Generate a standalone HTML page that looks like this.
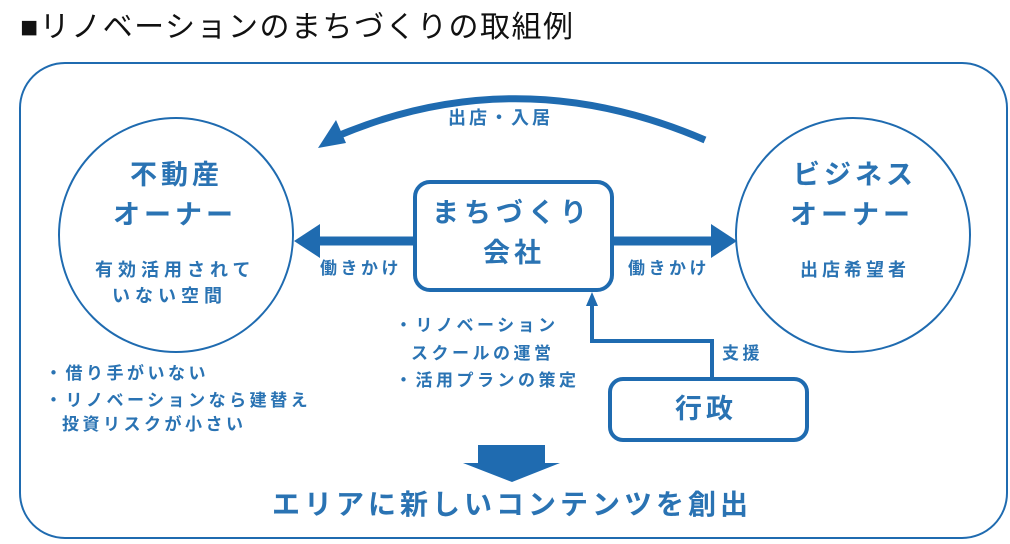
<!DOCTYPE html>
<html><head><meta charset="utf-8"><style>
body{margin:0;width:1010px;height:544px;background:#fff;overflow:hidden;font-family:"Liberation Sans","Noto Sans CJK JP",sans-serif;position:relative}
.t{position:absolute;color:#2a73b3;font-weight:bold;white-space:nowrap;line-height:1.2}
.L{font-size:27px;letter-spacing:4px}
.S{font-size:17px;letter-spacing:3.5px}
</style></head><body>
<div class="t" style="left:20px;top:10px;font-size:30px;letter-spacing:1.5px;color:#111;font-weight:normal">■リノベーションのまちづくりの取組例</div>
<svg width="1010" height="544" style="position:absolute;left:0;top:0">
<rect x="20" y="63" width="987" height="475" rx="45" fill="none" stroke="#1f6bb0" stroke-width="2"/>
<circle cx="176" cy="235" r="117" fill="none" stroke="#1f6bb0" stroke-width="2"/>
<circle cx="853" cy="235" r="117" fill="none" stroke="#1f6bb0" stroke-width="2"/>
<rect x="415" y="182" width="197" height="108" rx="15" fill="none" stroke="#1f6bb0" stroke-width="4"/>
<rect x="610" y="379" width="197" height="61" rx="13" fill="none" stroke="#1f6bb0" stroke-width="4"/>
<line x1="413" y1="241" x2="320" y2="241" stroke="#1f6bb0" stroke-width="9"/>
<path d="M294,241L320,224L320,258z" fill="#1f6bb0"/>
<line x1="614" y1="241" x2="712" y2="241" stroke="#1f6bb0" stroke-width="9"/>
<path d="M737,241L711,224L711,258z" fill="#1f6bb0"/>
<path d="M705,140Q520,60 340,135" fill="none" stroke="#1f6bb0" stroke-width="7"/>
<path d="M318,148L336,120L346,143z" fill="#1f6bb0"/>
<path d="M712,378V341H592V304" fill="none" stroke="#1f6bb0" stroke-width="4"/>
<path d="M592,292L586,306L598,306z" fill="#1f6bb0"/>
<path d="M478,445H545V463H560L512,482L463,463H478z" fill="#1f6bb0"/>
</svg>
<div class="t L" style="left:130px;top:159px">不動産</div>
<div class="t L" style="left:113px;top:199px">オーナー</div>
<div class="t" style="left:95px;top:260px;font-size:18px;letter-spacing:5px">有効活用されて</div>
<div class="t" style="left:112px;top:286px;font-size:18px;letter-spacing:5px">いない空間</div>
<div class="t L" style="left:793px;top:159px">ビジネス</div>
<div class="t L" style="left:790px;top:199px">オーナー</div>
<div class="t" style="left:800px;top:260px;font-size:18px;letter-spacing:4px">出店希望者</div>
<div class="t L" style="left:432px;top:197px;letter-spacing:5px">まちづくり</div>
<div class="t L" style="left:483px;top:237px">会社</div>
<div class="t L" style="left:675px;top:393px">行政</div>
<div class="t" style="left:448px;top:108px;font-size:18px;letter-spacing:3px">出店・入居</div>
<div class="t S" style="left:320px;top:259px">働きかけ</div>
<div class="t S" style="left:628px;top:259px">働きかけ</div>
<div class="t S" style="left:722px;top:344px">支援</div>
<div class="t S" style="left:395px;top:316px">・リノベーション</div>
<div class="t S" style="left:411px;top:344px">スクールの運営</div>
<div class="t S" style="left:395px;top:371px">・活用プランの策定</div>
<div class="t S" style="left:45px;top:364px">・借り手がいない</div>
<div class="t S" style="left:45px;top:391px">・リノベーションなら建替え</div>
<div class="t S" style="left:62px;top:415px">投資リスクが小さい</div>
<div class="t" style="left:272px;top:488px;font-size:28px;letter-spacing:4px">エリアに新しいコンテンツを創出</div>
</body></html>
